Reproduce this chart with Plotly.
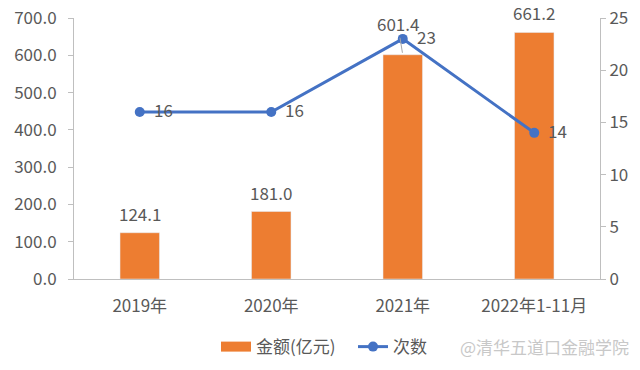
import plotly.graph_objects as go

categories = ["2019年", "2020年", "2021年", "2022年1-11月"]
amounts = [124.1, 181.0, 601.4, 661.2]
counts = [16, 16, 23, 14]
left_ticks = [0, 100, 200, 300, 400, 500, 600, 700]
right_ticks = [0, 5, 10, 15, 20, 25]

FONT = "Noto Sans CJK SC"
TXT = "#595959"
AX = "#BFBFBF"
ORANGE = "#ED7D31"
BLUE = "#4472C4"
FS = 17
WATERMARK = "@清华五道口金融学院"

moved = 2  # index of bar label moved above the line

fig = go.Figure()
fig.add_trace(go.Bar(
    x=categories, y=amounts, name="金额(亿元)", marker_color=ORANGE,
    width=0.3, yaxis="y", showlegend=False,
))
# legend proxy: wide rectangle swatch like the reference
fig.add_trace(go.Scatter(
    x=[None], y=[None], name="金额(亿元)", mode="lines",
    line=dict(color=ORANGE, width=14), yaxis="y",
))
fig.add_trace(go.Scatter(
    x=categories, y=counts, name="次数", mode="lines+markers",
    line=dict(color=BLUE, width=3), marker=dict(size=10, color=BLUE),
    yaxis="y2", cliponaxis=False,
))

lab_font = dict(family=FONT, size=FS, color=TXT)
for i, (c, v) in enumerate(zip(categories, amounts)):
    if i == moved:
        fig.add_annotation(
            x=c, y=v, xref="x", yref="y", text=f"{v:.1f}", showarrow=True,
            arrowhead=0, arrowwidth=1, arrowcolor="#A6A6A6", ax=-5, ay=-31,
            standoff=2, font=lab_font,
        )
    else:
        fig.add_annotation(
            x=c, y=v, xref="x", yref="y", text=f"{v:.1f}", showarrow=False,
            yanchor="bottom", yshift=5, font=lab_font,
        )
for c, n in zip(categories, counts):
    fig.add_annotation(
        x=c, y=n, xref="x", yref="y2", text=str(n), showarrow=False,
        xanchor="left", xshift=12, yshift=2, font=lab_font,
    )

fig.add_annotation(
    x=0.895, y=-0.26, xref="paper", yref="paper", showarrow=False,
    text=WATERMARK, font=dict(family=FONT, size=FS, color="#C8C8C8"),
    xanchor="center", yanchor="middle",
)

fig.update_layout(
    width=640, height=370, margin=dict(l=74, r=40, t=18, b=91),
    paper_bgcolor="white", plot_bgcolor="white",
    font=dict(family=FONT, size=FS, color=TXT),
    showlegend=True,
    legend=dict(orientation="h", x=0.27, xanchor="left", xref="paper",
                y=0.062, yanchor="middle", yref="container",
                font=dict(family=FONT, size=FS, color=TXT), traceorder="normal",
                itemwidth=30, tracegroupgap=0, entrywidth=92),
    xaxis=dict(showline=True, linecolor=AX, linewidth=1, ticks="", showgrid=False,
               tickfont=dict(family=FONT, size=FS, color=TXT), ticklabelstandoff=12,
               automargin=False),
    yaxis=dict(range=[0, 700], tickvals=left_ticks, tickformat=".1f", showline=True,
               linecolor=AX, ticks="outside", ticklen=5, tickcolor=AX, showgrid=False,
               zeroline=False, tickfont=dict(family=FONT, size=FS, color=TXT),
               ticklabelstandoff=8, automargin=False),
    yaxis2=dict(range=[0, 25], tickvals=right_ticks, overlaying="y", side="right",
                showline=True, linecolor=AX, ticks="outside", ticklen=5, tickcolor=AX,
                showgrid=False, zeroline=False, automargin=False,
                tickfont=dict(family=FONT, size=FS, color=TXT)),
)

fig.write_html("out.html", config={"displayModeBar": False},
               post_script="document.body.style.margin='0px';")
